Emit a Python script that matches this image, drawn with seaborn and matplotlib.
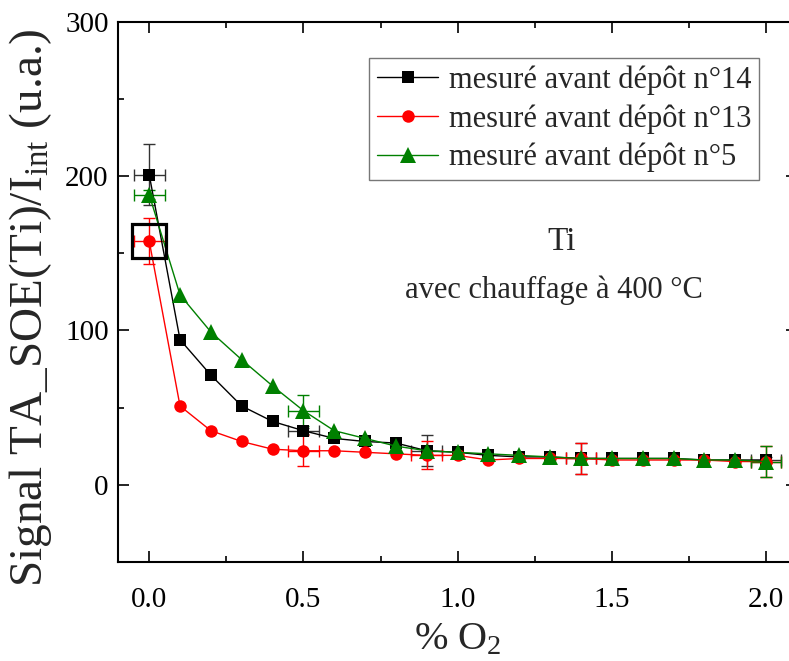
import pandas as pd
import numpy as np
import matplotlib
matplotlib.use('Agg')
import matplotlib.pyplot as plt
from matplotlib.ticker import MultipleLocator
import seaborn as sns

# % O2
o2 = [0.0, 0.1, 0.2, 0.3, 0.4, 0.5, 0.6, 0.7, 0.8, 0.9, 1.0,
      1.1, 1.2, 1.3, 1.4, 1.5, 1.6, 1.7, 1.8, 1.9, 2.0]

# signal mesuré avant chaque dépôt
sig_14 = [201, 94, 71, 51, 41, 35, 30, 28, 27, 22, 21,
          19, 18, 18, 17, 17, 17, 17, 16, 16, 16]
sig_13 = [158, 51, 35, 28, 23, 22, 22, 21, 20, 19, 19,
          16, 17, 17, 17, 16, 16, 16, 16, 15, 15]
sig_5 = [188, 123, 99, 81, 64, 48, 35, 30, 25, 22, 21,
         20, 19, 18, 17, 17, 17, 17, 16, 16, 15]

labels = ['mesuré avant dépôt n°14', 'mesuré avant dépôt n°13', 'mesuré avant dépôt n°5']
colors = ['black', 'red', 'green']
markers = ['s', 'o', '^']

# barres d'erreur (indices des points concernés, erreur en y)
err_idx_14 = [0, 5, 9, 14, 20]
err_y_14 = [20, 2, 10, 10, 2]
err_idx_13 = [0, 5, 9, 14, 20]
err_y_13 = [15, 10, 9, 10, 10]
err_idx_5 = [0, 5, 20]
err_y_5 = [3, 10, 10]
err_x = 0.05


def main():
    sns.set_theme(style='ticks')
    plt.rcParams['font.family'] = ['Liberation Serif', 'DejaVu Serif']
    plt.rcParams['mathtext.fontset'] = 'custom'
    plt.rcParams['mathtext.rm'] = 'Liberation Serif'
    plt.rcParams['mathtext.default'] = 'regular'

    df = pd.DataFrame({
        'o2': o2 * 3,
        'signal': sig_14 + sig_13 + sig_5,
        'serie': [labels[0]] * len(o2) + [labels[1]] * len(o2) + [labels[2]] * len(o2),
    })

    fig = plt.figure(figsize=(7.89, 6.61), dpi=100)
    ax = fig.add_axes([0.150, 0.150, 0.86, 0.817])

    sns.lineplot(data=df, x='o2', y='signal', hue='serie', style='serie',
                 palette=dict(zip(labels, colors)), markers=dict(zip(labels, markers)),
                 dashes=False, linewidth=1.0, markersize=9, markeredgewidth=0,
                 ax=ax, zorder=3)
    # triangles un peu plus grands
    for ln in ax.lines:
        if ln.get_marker() == '^':
            ln.set_markersize(11)

    errs = [(sig_14, err_idx_14, err_y_14, '#333333'),
            (sig_13, err_idx_13, err_y_13, 'red'),
            (sig_5, err_idx_5, err_y_5, 'green')]
    for sig, idx, ey, c in errs:
        ax.errorbar([o2[i] for i in idx], [sig[i] for i in idx], yerr=ey, xerr=err_x,
                    fmt='none', ecolor=c, elinewidth=1.0, capsize=4.5, capthick=1.0,
                    zorder=2)

    # point encadré
    ax.plot([o2[0]], [sig_13[0]], marker='s', ms=25, mfc='none', mec='black', mew=2.3,
            ls='none', zorder=4)

    ax.set_xlim(-0.1, 2.1)
    ax.set_ylim(-50, 300)
    ax.xaxis.set_major_locator(MultipleLocator(0.5))
    ax.xaxis.set_minor_locator(MultipleLocator(0.25))
    ax.yaxis.set_major_locator(MultipleLocator(100))
    ax.yaxis.set_minor_locator(MultipleLocator(50))
    ax.xaxis.set_major_formatter(plt.FormatStrFormatter('%.1f'))
    ax.tick_params(which='both', direction='in', top=True, right=True, width=1.2,
                   labelsize=21, colors='black')
    ax.tick_params(axis='x', which='major', pad=18)
    ax.tick_params(axis='y', which='major', pad=7)
    ax.tick_params(which='major', length=8)
    ax.tick_params(which='minor', length=4)
    for sp in ax.spines.values():
        sp.set_linewidth(1.5)
        sp.set_color('black')

    ax.set_xlabel('% O$_2$', fontsize=29, labelpad=6)
    ax.set_ylabel('Signal TA_SOE(Ti)/I$_{int}$ (u.a.)', fontsize=34)
    ax.yaxis.set_label_coords(-0.095, 0.47)

    ax.text(0.654, 0.593, 'Ti', transform=ax.transAxes, fontsize=24, ha='center', va='center')
    ax.text(0.642, 0.503, 'avec chauffage à 400 °C', transform=ax.transAxes, fontsize=22,
            ha='center', va='center')

    handles, labs = ax.get_legend_handles_labels()
    leg = ax.legend(handles, labs, loc='upper right', bbox_to_anchor=(0.944, 0.933),
                    fontsize=22, frameon=True, fancybox=False, borderaxespad=0,
                    borderpad=0.25, handlelength=2.0, labelspacing=0.3, handletextpad=0.35)
    leg.get_frame().set_edgecolor('#555555')
    leg.get_frame().set_linewidth(1.0)

    fig.savefig('out.png', dpi=100)
    plt.close(fig)


if __name__ == '__main__':
    main()
